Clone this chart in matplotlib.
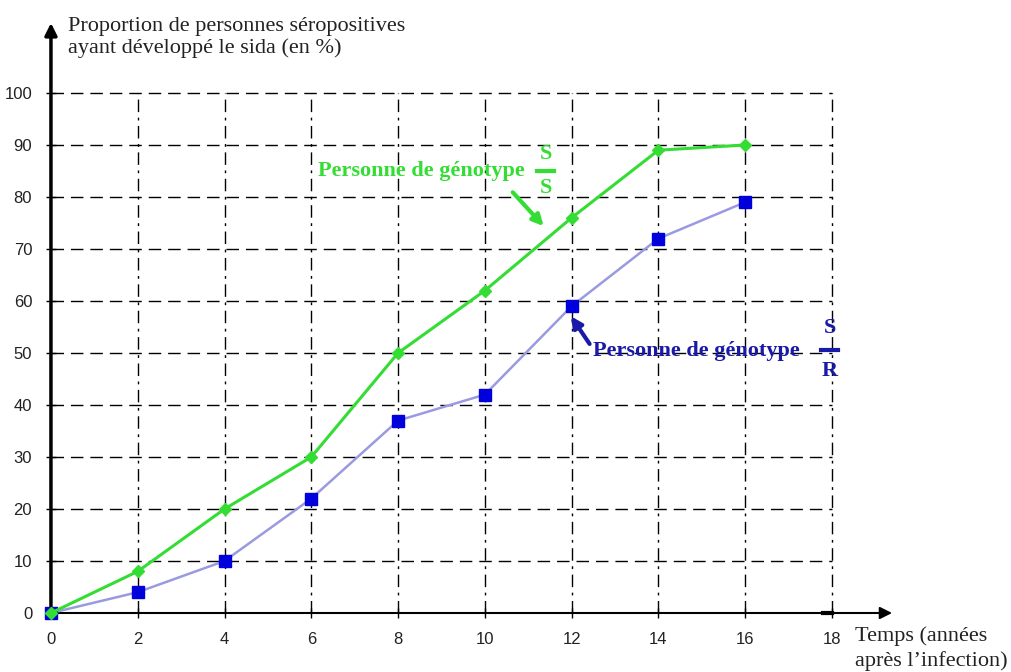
import numpy as np
import matplotlib.pyplot as plt

# years after infection
years = [0, 2, 4, 6, 8, 10, 12, 14, 16]
# % having developed AIDS
ss_values = [0, 8, 20, 30, 50, 62, 76, 89, 90]
sr_values = [0, 4, 10, 22, 37, 42, 59, 72, 79]

x_ticks = [0, 2, 4, 6, 8, 10, 12, 14, 16, 18]
y_ticks = [0, 10, 20, 30, 40, 50, 60, 70, 80, 90, 100]

green = '#33dd33'
navy = '#1a1aa8'
serif = 'Liberation Serif'
sans = 'Liberation Sans'
fs = 16

fig = plt.figure(figsize=(10.11, 6.72), dpi=100)
ax = fig.add_axes([0.0504, 0.0878, 0.7725, 0.7738])
ax.set_xlim(0, 18)
ax.set_ylim(0, 100)

# dashed grid, including the top and right borders
for y in y_ticks[1:]:
	ax.axhline(y, color='black', lw=1, ls=(0, (9, 5)), zorder=1, clip_on=False)
for x in x_ticks[1:]:
	ax.axvline(x, color='black', lw=1, ls=(0, (9, 4, 2, 4)), zorder=1, clip_on=False)

for s in ['top', 'right', 'bottom', 'left']:
	ax.spines[s].set_visible(False)

# axes with arrows
ax.annotate('', xy=(0, 114), xytext=(0, 0), xycoords='data', annotation_clip=False,
	arrowprops=dict(arrowstyle='-|>', color='black', lw=2.5, mutation_scale=18))
ax.annotate('', xy=(19.45, 0), xytext=(0, 0), xycoords='data', annotation_clip=False,
	arrowprops=dict(arrowstyle='-|>', color='black', lw=1.5, mutation_scale=18))
ax.plot([17.8, 18], [0, 0], color='black', lw=3, clip_on=False, zorder=3)

ax.set_xticks(x_ticks)
ax.set_yticks(y_ticks)
ax.tick_params(direction='inout', length=7, width=1, labelsize=12, pad=10)
for lab in ax.get_xticklabels() + ax.get_yticklabels():
	lab.set_family(sans)
	lab.set_color('#222222')

ax.plot(years, sr_values, color='#9a9ae0', lw=1.8, marker='s', markersize=9,
	markerfacecolor='#0000dd', markeredgecolor='#0000dd', zorder=4, clip_on=False)
ax.plot(years, ss_values, color=green, lw=2.2, marker='D', markersize=6,
	markerfacecolor=green, markeredgecolor=green, zorder=5, clip_on=False)

# axis titles
fig.text(0.067, 0.975, 'Proportion de personnes séropositives\nayant développé le sida (en %)',
	family=serif, fontsize=fs, va='top', ha='left', linespacing=1.15, color='#222222')
fig.text(0.846, 0.053, 'Temps (années', family=serif, fontsize=fs,
	va='center', ha='left', color='#222222')
fig.text(0.997, 0.017, 'après l\u2019infection)', family=serif, fontsize=fs,
	va='center', ha='right', color='#222222')

# green annotation
ax.text(6.15, 85, 'Personne de génotype', family=serif, fontweight='bold', fontsize=fs,
	color=green, va='center', ha='left')
ax.text(11.4, 88.3, 'S', family=serif, fontweight='bold', fontsize=fs, color=green,
	ha='center', va='center')
ax.text(11.4, 81.7, 'S', family=serif, fontweight='bold', fontsize=fs, color=green,
	ha='center', va='center')
ax.plot([11.2, 11.6], [85, 85], color=green, lw=3, zorder=6)
ax.annotate('', xy=(11.4, 74), xytext=(10.6, 81.3),
	arrowprops=dict(arrowstyle='-|>', color=green, lw=3, mutation_scale=16))

# blue annotation
ax.text(12.5, 50.3, 'Personne de génotype', family=serif, fontweight='bold', fontsize=fs,
	color=navy, va='center', ha='left')
ax.text(17.95, 54.8, 'S', family=serif, fontweight='bold', fontsize=fs, color=navy,
	ha='center', va='center', clip_on=False)
ax.text(17.95, 46.5, 'R', family=serif, fontweight='bold', fontsize=fs, color=navy,
	ha='center', va='center', clip_on=False)
ax.plot([17.75, 18.15], [50.6, 50.6], color=navy, lw=3, zorder=6, clip_on=False)
ax.annotate('', xy=(11.95, 57.5), xytext=(12.45, 51.3),
	arrowprops=dict(arrowstyle='-|>', color=navy, lw=3, mutation_scale=16))

plt.savefig('out.png', dpi=100)
